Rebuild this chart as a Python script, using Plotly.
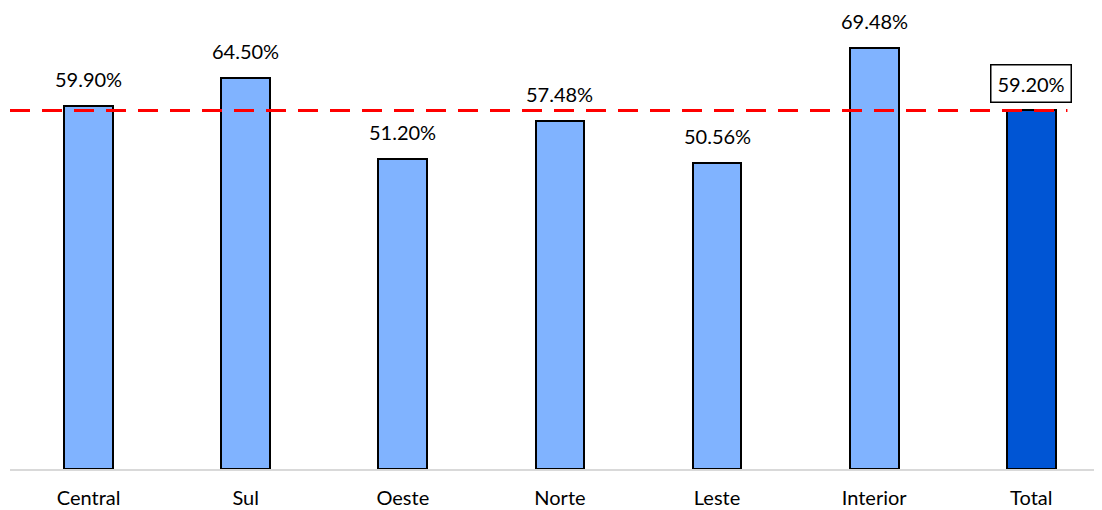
import plotly.graph_objects as go

categories = ["Central", "Sul", "Oeste", "Norte", "Leste", "Interior", "Total"]
values = [59.90, 64.50, 51.20, 57.48, 50.56, 69.48, 59.20]
labels = ["59.90%", "64.50%", "51.20%", "57.48%", "50.56%", "69.48%", "59.20%"]
reference_value = 59.20

light = "#80B3FF"
dark = "#0055D4"
colors = [light] * 6 + [dark]
FONT = "Lato, Calibri, sans-serif"

fig = go.Figure()
fig.add_trace(go.Bar(
    x=categories, y=values, width=0.31,
    marker=dict(color=colors, line=dict(color="black", width=2)),
    hoverinfo="skip",
))

for c, v, lab in zip(categories, values, labels):
    boxed = (c == "Total")
    fig.add_annotation(
        x=c, y=v, text=lab, showarrow=False, yanchor="bottom",
        yshift=7 if boxed else 15,
        font=dict(family=FONT, size=20, color="black"),
        bordercolor="black" if boxed else "rgba(0,0,0,0)", borderwidth=1.5 if boxed else 0,
        borderpad=6 if boxed else 0, bgcolor="white" if boxed else "rgba(0,0,0,0)",
    )

fig.add_shape(type="line", xref="x", yref="y", x0=-0.5, x1=6.23,
              y0=reference_value, y1=reference_value,
              line=dict(color="#FF0000", width=3, dash="20px,12px"))

fig.update_layout(
    width=1094, height=502,
    margin=dict(l=2, r=0, t=0, b=41),
    plot_bgcolor="white", paper_bgcolor="white",
    showlegend=False,
    bargap=0,
)
fig.update_xaxes(range=[-0.5, 6.45], showline=True, linecolor="#D9D9D9", linewidth=1.5,
                 ticks="", tickfont=dict(family=FONT, size=20, color="black"),
                 ticklabelstandoff=10, showgrid=False)
fig.update_yaxes(range=[0, 76.1], showticklabels=False, showgrid=False, zeroline=False,
                 showline=False)

fig.write_html("out.html")
